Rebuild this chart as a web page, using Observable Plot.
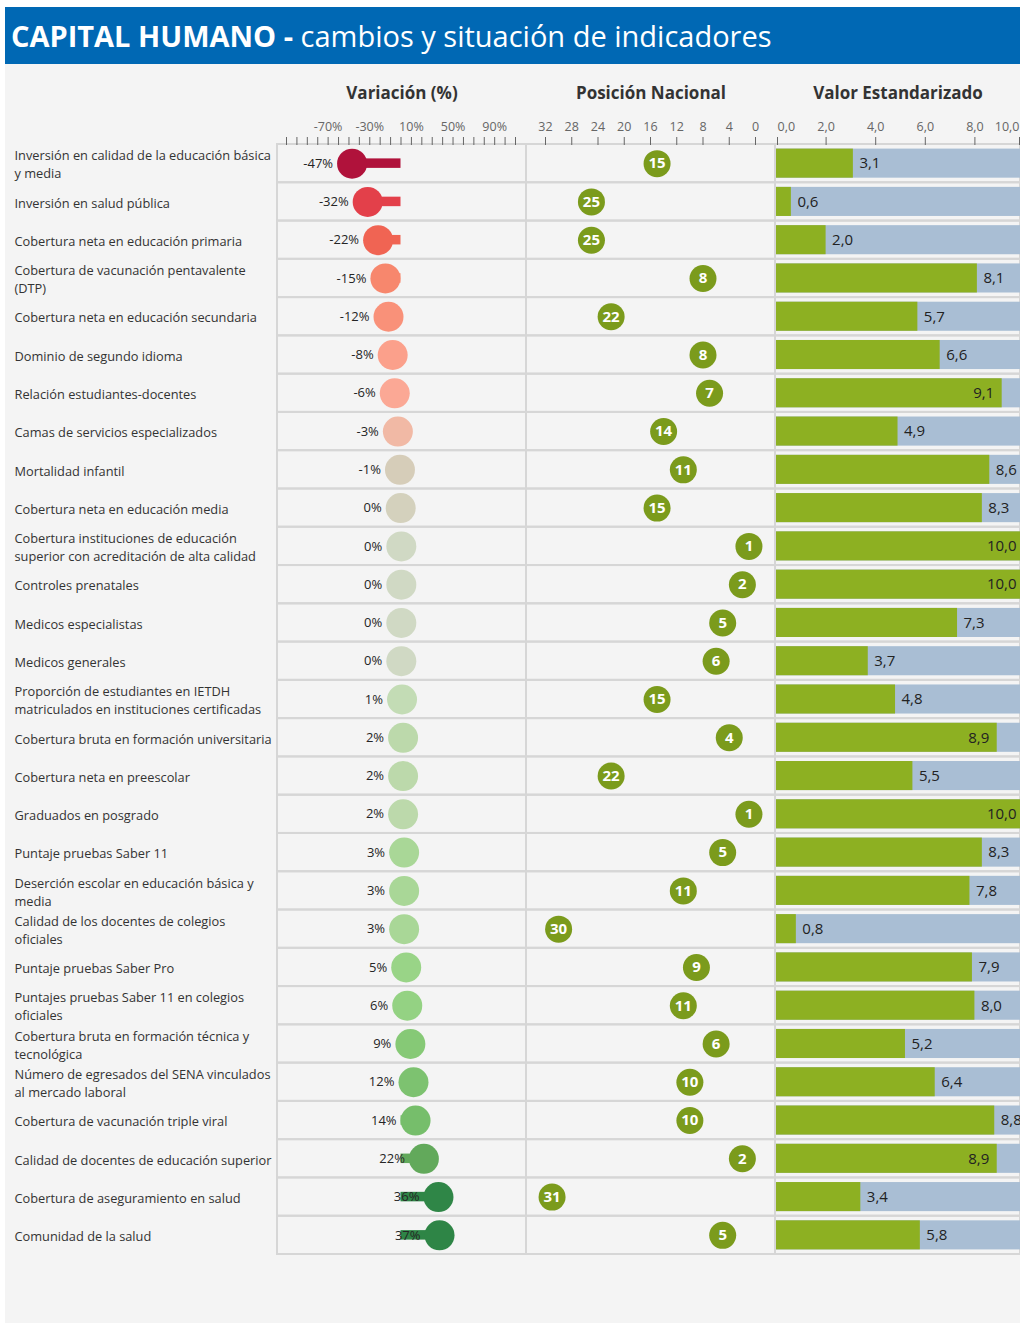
<!DOCTYPE html>
<html>
<head>
<meta charset="utf-8">
<script src="https://cdn.jsdelivr.net/npm/d3@7"></script>
<script src="https://cdn.jsdelivr.net/npm/@observablehq/plot@0.6"></script>
<style>
  body { margin: 0; background: #ffffff; }
  #wrap { position: relative; width: 1020px; height: 1323px; overflow: hidden; font-family: 'Segoe UI', 'Open Sans', sans-serif; }
  #title { position: absolute; left: 5px; top: 7px; width: 1015px; height: 57px; background: #0068b4; color: #fff;
           display: flex; align-items: center; padding-left: 6px; box-sizing: border-box; font-size: 29px; white-space: nowrap; }
  #title b { font-weight: 700; }
  #bg { position: absolute; left: 5px; top: 64px; width: 1015px; height: 1259px; background: #f4f4f4; }
  .panel { position: absolute; top: 64px; }
  .panel svg { max-width: none; background: transparent; display: block; }
</style>
</head>
<body>
<div id="wrap">
  <div id="title"><b>CAPITAL HUMANO -&nbsp;</b><span>cambios y situación de indicadores</span></div>
  <div id="bg"></div>
  <div class="panel" id="p1" style="left:5px"></div>
  <div class="panel" id="p2" style="left:526px"></div>
  <div class="panel" id="p3" style="left:775px"></div>
</div>
<script>
const indicadores = [
  "Inversión en calidad de la educación básica\ny media",
  "Inversión en salud pública",
  "Cobertura neta en educación primaria",
  "Cobertura de vacunación pentavalente\n(DTP)",
  "Cobertura neta en educación secundaria",
  "Dominio de segundo idioma",
  "Relación estudiantes-docentes",
  "Camas de servicios especializados",
  "Mortalidad infantil",
  "Cobertura neta en educación media",
  "Cobertura instituciones de educación\nsuperior con acreditación de alta calidad",
  "Controles prenatales",
  "Medicos especialistas",
  "Medicos generales",
  "Proporción de estudiantes en IETDH\nmatriculados en instituciones certificadas",
  "Cobertura bruta en formación universitaria",
  "Cobertura neta en preescolar",
  "Graduados en posgrado",
  "Puntaje pruebas Saber 11",
  "Deserción escolar en educación básica y\nmedia",
  "Calidad de los docentes de colegios\noficiales",
  "Puntaje pruebas Saber Pro",
  "Puntajes pruebas Saber 11 en colegios\noficiales",
  "Cobertura bruta en formación técnica y\ntecnológica",
  "Número de egresados del SENA vinculados\nal mercado laboral",
  "Cobertura de vacunación triple viral",
  "Calidad de docentes de educación superior",
  "Cobertura de aseguramiento en salud",
  "Comunidad de la salud"
];
const variacion = [-47, -32, -22, -15, -12, -8, -6, -3, -1, -0.3, 0.3, 0.3, 0.3, 0.3, 1, 2, 2, 2, 3, 3, 3, 5, 6, 9, 12, 14, 22, 36, 37];
const posicion  = [15, 25, 25, 8, 22, 8, 7, 14, 11, 15, 1, 2, 5, 6, 15, 4, 22, 1, 5, 11, 30, 9, 11, 6, 10, 10, 2, 31, 5];
const valor     = [3.1, 0.6, 2.0, 8.1, 5.7, 6.6, 9.1, 4.9, 8.6, 8.3, 10.0, 10.0, 7.3, 3.7, 4.8, 8.9, 5.5, 10.0, 8.3, 7.8, 0.8, 7.9, 8.0, 5.2, 6.4, 8.8, 8.9, 3.4, 5.8];

const varTicks = d3.range(-110, 111, 10);
const varTickLabels = [-70, -30, 10, 50, 90];
const posTicks = d3.range(0, 33, 4);
const valTicks = d3.range(0, 11, 2);

const rows = indicadores.map((name, i) => ({name, v: variacion[i], p: posicion[i], s: valor[i]}));

const colorStops = [-47, -32, -22, -15, -12, -8, -6, -3, -1, -0.3, 0.3, 1, 2, 3, 5, 6, 9, 12, 14, 22, 36, 37];
const colorRange = ["#b0123b", "#e3404a", "#f06453", "#f7876d", "#f99179", "#fba08b", "#fba895", "#f1b9a5",
                    "#d6cdb9", "#d4d1bd", "#d0d9c4", "#c3dcb5", "#bcd9ab", "#a9d797", "#99d487", "#94d283",
                    "#86c976", "#7dc270", "#76be6b", "#62a95b", "#2f8647", "#2e8546"];

const FONT = "'Segoe UI', 'Open Sans', sans-serif";
const SEP = "#d6d6d6";
const H = 1200, MT = 80, MB = 10;
const yScale = {type: "band", domain: indicadores, padding: 0, round: false, axis: null};
const rowInset = (38.28 - 9.5) / 2;
const fmtComma = d => d.toFixed(1).replace(".", ",");

function heading(txt) {
  return Plot.text([txt], {frameAnchor: "top", dy: -51, lineAnchor: "middle", fontSize: 17, fontWeight: "bold", fill: "#333"});
}
const axisOpts = {anchor: "top", tickSize: 8, tickPadding: 6, fontSize: 12.5, color: "#666", label: null};

// Panel 1: labels + Variación
const p1 = Plot.plot({
  width: 521, height: H, marginTop: MT, marginBottom: MB, marginLeft: 272, marginRight: 0,
  style: {fontFamily: FONT, background: "transparent", overflow: "hidden"},
  x: {domain: [-110, 110], range: [281, 510]},
  y: yScale,
  color: {type: "linear", domain: colorStops, range: colorRange},
  marks: [
    Plot.cell(rows, {y: "name", fill: "none", stroke: SEP, strokeWidth: 2, inset: 0}),
    Plot.axisX({...axisOpts, ticks: varTicks, tickFormat: d => varTickLabels.includes(d) ? `${d}%` : ""}),
    heading("Variación (%)"),
    Plot.text(rows, {y: "name", text: "name", frameAnchor: "left", dx: -263, textAnchor: "start",
                     lineAnchor: "middle", lineHeight: 1.4, fontSize: 12.8, fill: "#333"}),
    Plot.barX(rows, {x1: 0, x2: "v", y: "name", fill: "v", insetTop: rowInset, insetBottom: rowInset}),
    Plot.dot(rows, {x: "v", y: "name", r: 15, fill: "v"}),
    Plot.text(rows, {x: "v", y: "name", text: d => `${Math.round(d.v)}%`, dx: -19, textAnchor: "end",
                     fontSize: 13, fill: "#252525"})
  ]
});
document.getElementById("p1").appendChild(p1);

// Panel 2: Posición Nacional
const p2 = Plot.plot({
  width: 249, height: H, marginTop: MT, marginBottom: MB, marginLeft: 0, marginRight: 0,
  style: {fontFamily: FONT, background: "transparent", overflow: "hidden"},
  x: {domain: [0, 32], range: [229, 19]},
  y: yScale,
  marks: [
    Plot.cell(rows, {y: "name", fill: "none", stroke: SEP, strokeWidth: 2, inset: 0}),
    Plot.axisX({...axisOpts, ticks: posTicks, tickFormat: d => `${d}`}),
    heading("Posición Nacional"),
    Plot.dot(rows, {x: "p", y: "name", r: 13.5, fill: "#7b9b1c"}),
    Plot.text(rows, {x: "p", y: "name", text: d => `${d.p}`, fill: "#ffffff", fontSize: 15, fontWeight: "bold"})
  ]
});
document.getElementById("p2").appendChild(p2);

// Panel 3: Valor Estandarizado
const p3 = Plot.plot({
  width: 245, height: H, marginTop: MT, marginBottom: MB, marginLeft: 0, marginRight: 0,
  style: {fontFamily: FONT, background: "transparent", overflow: "hidden"},
  x: {domain: [0, 10], range: [1, 249]},
  y: yScale,
  marks: [
    Plot.cell(rows, {y: "name", fill: "none", stroke: SEP, strokeWidth: 2, inset: 0}),
    Plot.axisX({...axisOpts, ticks: valTicks.slice(1, -1), tickFormat: fmtComma}),
    Plot.axisX({...axisOpts, ticks: valTicks.slice(0, 1), tickFormat: fmtComma, textAnchor: "start", dx: 1}),
    Plot.axisX({...axisOpts, ticks: valTicks.slice(-1), tickFormat: fmtComma, textAnchor: "end", dx: -5}),
    heading("Valor Estandarizado"),
    Plot.barX(rows, {x1: 0, x2: 10, y: "name", fill: "#a9bed4", insetTop: 4.6, insetBottom: 4.6}),
    Plot.barX(rows, {x1: 0, x2: "s", y: "name", fill: "#8db022", insetTop: 4.6, insetBottom: 4.6}),
    Plot.text(rows.filter(d => d.s < 8.9), {x: "s", y: "name", text: d => fmtComma(d.s), dx: 6, textAnchor: "start", fontSize: 15, fill: "#222"}),
    Plot.text(rows.filter(d => d.s >= 8.9), {x: "s", y: "name", text: d => fmtComma(d.s), dx: -8, textAnchor: "end", fontSize: 15, fill: "#222"})
  ]
});
document.getElementById("p3").appendChild(p3);
</script>
</body>
</html>
